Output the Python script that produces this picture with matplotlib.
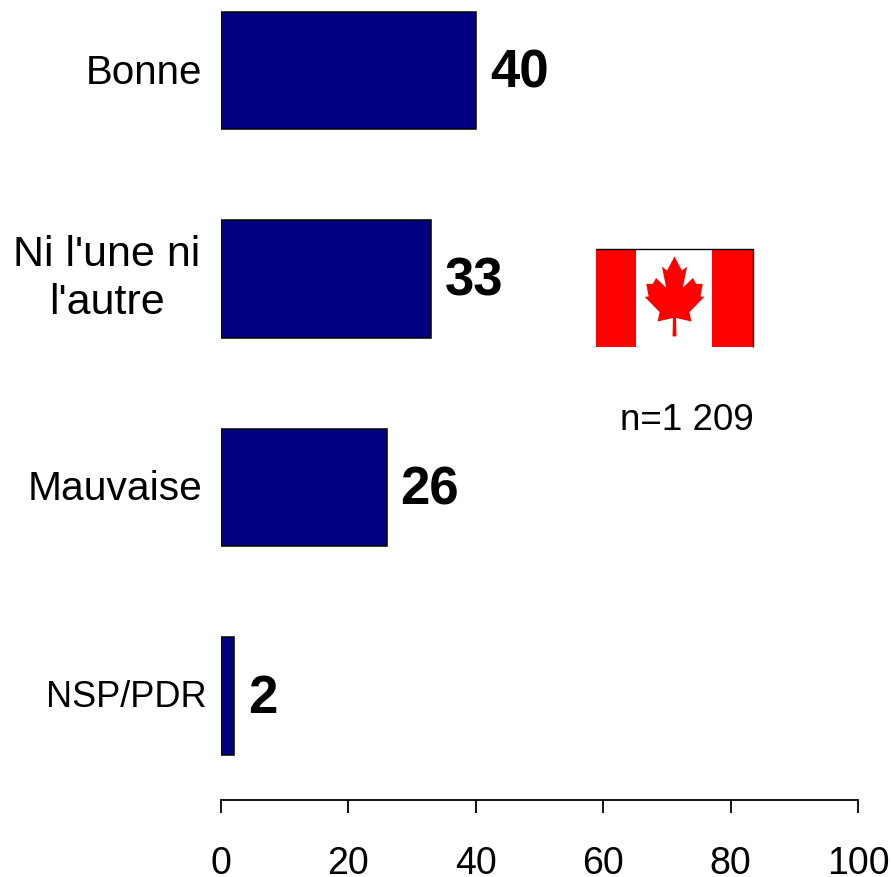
import matplotlib
matplotlib.use("Agg")
import matplotlib.pyplot as plt
from matplotlib.patches import Polygon, Rectangle

categories = ["Bonne", "Ni l'une ni\nl'autre", "Mauvaise", "NSP/PDR"]
values = [40, 33, 26, 2]
x_ticks = [0, 20, 40, 60, 80, 100]

# demi-feuille d'erable, en coordonnees du drapeau (centre en 0, 0)
leaf_right = [(0, 1.06), (0.19, 0.70), (0.32, 0.80), (0.21, 0.26), (0.47, 0.51),
              (0.55, 0.36), (0.72, 0.36), (0.66, 0.04), (0.76, 0.03), (0.38, -0.36),
              (0.43, -0.60), (0.04, -0.51), (0.05, -0.98)]

W, H = 892, 877
plt.rcParams["font.family"] = ["Liberation Sans", "DejaVu Sans"]

fig = plt.figure(figsize=(W / 100, H / 100), dpi=100)

# axe principal : 0 a x=221 px, 100 a x=858 px
ax = fig.add_axes([221 / W, 1 - 800 / H, (858 - 221) / W, (800 - 4) / H])
positions = list(range(len(values)))
ax.barh(positions, values, height=0.563, color="#000080", edgecolor="black", linewidth=1.1)
ax.set_xlim(0, 100)
ax.set_ylim(3.499, -0.319)

for s in ["left", "right", "top"]:
    ax.spines[s].set_visible(False)
ax.spines["bottom"].set_linewidth(1.3)

ax.set_yticks([])
ax.set_xticks(x_ticks)
ax.tick_params(axis="x", direction="out", length=9.5, width=1.3, pad=23.5, labelsize=27)

# libelles : taille propre a chacun car l'original est plus ou moins espace
label_right = [202, 0, 202, 207]
label_size = [29, 0, 29.3, 26]
for pos, cat, size, lx in zip(positions, categories, label_size, label_right):
    if "\n" in cat:
        continue
    ax.annotate(cat, xy=(0, pos), xytext=(lx - 221, -2), textcoords="offset pixels",
                ha="right", va="center", fontsize=size)

fig.text(107 / W, 1 - 279 / H, categories[1], ha="center", va="center",
         fontsize=31, linespacing=1.25)

# valeurs au bout des barres
for pos, v in zip(positions, values):
    ax.annotate(str(v), xy=(v, pos), xytext=(14, -3), textcoords="offset pixels",
                ha="left", va="center", fontsize=38, fontweight="bold")

fig.text(687 / W, 1 - 421 / H, "n=1 209", ha="center", va="center", fontsize=26.5)

# drapeau du Canada
flag = fig.add_axes([596 / W, 1 - 347 / H, 157 / W, 98 / H])
flag.set_xlim(-2, 2)
flag.set_ylim(-1.25, 1.25)
flag.axis("off")
flag.add_patch(Rectangle((-2, -1.25), 4, 2.5, color="white", zorder=0))
flag.add_patch(Rectangle((-2, -1.25), 1.02, 2.5, color="#ff0000", lw=0))
flag.add_patch(Rectangle((0.96, -1.25), 1.04, 2.5, color="#ff0000", lw=0))
flag.plot([-2, 2, 2], [1.25, 1.25, -1.25], color="black", lw=1, clip_on=False,
          solid_capstyle="butt")
leaf = leaf_right + [(-x, y) for x, y in reversed(leaf_right)]
flag.add_patch(Polygon(leaf, closed=True, color="#ff0000", lw=0))

fig.savefig("out.png", dpi=100)
